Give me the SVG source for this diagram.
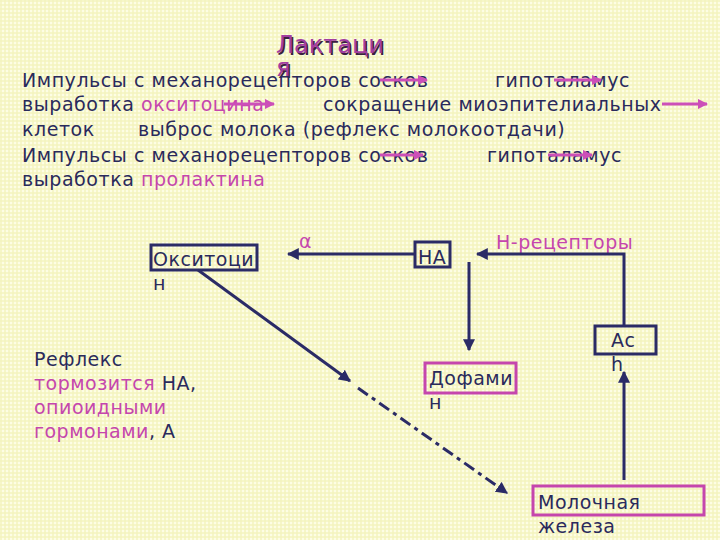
<svg xmlns="http://www.w3.org/2000/svg" width="720" height="540" viewBox="0 0 720 540">
<defs>
<pattern id="bg" width="4" height="4" patternUnits="userSpaceOnUse">
<rect width="4" height="4" fill="#fdfde4"/>
<rect width="4" height="2" fill="#f4f4bc" opacity="0.7"/>
<rect width="2" height="4" fill="#f4f4bc" opacity="0.7"/>
</pattern>
<marker id="ah" viewBox="0 0 10 10" refX="9" refY="5" markerWidth="4" markerHeight="4" orient="auto" markerUnits="strokeWidth">
<path d="M0,0 L10,5 L0,10 z" fill="#2b2b66"/>
</marker>
<marker id="ph" viewBox="0 0 10 10" refX="9" refY="5" markerWidth="3.5" markerHeight="3.5" orient="auto" markerUnits="strokeWidth">
<path d="M0,0 L10,5 L0,10 z" fill="#cc4fb8"/>
</marker>
</defs>
<style>
.t{font-family:"DejaVu Sans",sans-serif;font-size:19px;letter-spacing:0.55px;fill:#2a2a5c}
.s{font-family:"DejaVu Sans",sans-serif;font-size:19px;letter-spacing:0.5px;fill:#2a2a5c}
.p{fill:#c546ad}
.title{font-family:"DejaVu Sans",sans-serif;font-size:24px;fill:#a33ea0}
.sh{font-family:"DejaVu Sans",sans-serif;font-size:24px;fill:#3a2040}
.nb{fill:none;stroke:#2b2b66;stroke-width:3}
.pb{fill:none;stroke:#c546ad;stroke-width:3}
.c{fill:none;stroke:#2b2b66;stroke-width:3}
.pa{fill:none;stroke:#cc4fb8;stroke-width:3}
</style>
<rect width="720" height="540" fill="url(#bg)"/>

<g id="title">
<text class="sh" x="277.5" y="54.5">Лактаци</text>
<text class="sh" x="277.5" y="77.5">я</text>
<text class="title" x="276" y="53">Лактаци</text>
<text class="title" x="276" y="76">я</text>
</g>

<g id="text-block">
<text class="t" x="22" y="87">Импульсы с механорецепторов сосков</text>
<text class="t" x="495" y="87">гипоталамус</text>
<text class="t" x="22" y="111">выработка <tspan class="p">окситоцина</tspan></text>
<text class="t" x="323" y="111">сокращение миоэпителиальных</text>
<text class="t" x="22" y="136">клеток</text>
<text class="t" x="138" y="136">выброс молока (рефлекс молокоотдачи)</text>
<text class="t" x="22" y="162">Импульсы с механорецепторов сосков</text>
<text class="t" x="487" y="162">гипоталамус</text>
<text class="t" x="22" y="186">выработка <tspan class="p">пролактина</tspan></text>
</g>

<g id="text-arrows">
<line class="pa" x1="380" y1="80" x2="427" y2="80" marker-end="url(#ph)"/>
<line class="pa" x1="554" y1="80" x2="601" y2="80" marker-end="url(#ph)"/>
<line class="pa" x1="224" y1="104" x2="274" y2="104" marker-end="url(#ph)"/>
<line class="pa" x1="662" y1="104" x2="707" y2="104" marker-end="url(#ph)"/>
<line class="pa" x1="380" y1="155" x2="423" y2="155" marker-end="url(#ph)"/>
<line class="pa" x1="548" y1="155" x2="592" y2="155" marker-end="url(#ph)"/>
</g>

<g id="oxytocin">
<rect class="nb" x="151" y="245" width="106" height="25"/>
<text class="s" x="153" y="266">Окситоци</text>
<text class="s" x="153" y="290">н</text>
</g>

<g id="na">
<rect class="nb" x="415" y="242" width="35" height="25"/>
<text class="s" x="418" y="264">НА</text>
</g>

<g id="dopamine">
<rect class="pb" x="425" y="363" width="91" height="30"/>
<text class="s" x="429" y="385">Дофами</text>
<text class="s" x="429" y="409">н</text>
</g>

<g id="ach">
<rect class="nb" x="595" y="326" width="61" height="28"/>
<text class="s" x="611" y="347">Ас</text>
<text class="s" x="611" y="371">h</text>
</g>

<g id="gland">
<rect class="pb" x="533" y="486" width="171" height="29"/>
<text class="s" x="538" y="509">Молочная</text>
<text class="s" x="538" y="533">железа</text>
</g>

<g id="labels">
<text class="s p" x="299" y="248">α</text>
<text class="s p" x="496" y="249">Н-рецепторы</text>
<text class="s" x="34" y="366">Рефлекс</text>
<text class="s" x="34" y="390"><tspan class="p">тормозится</tspan> НА,</text>
<text class="s p" x="34" y="414">опиоидными</text>
<text class="s" x="34" y="438"><tspan class="p">гормонами</tspan>, А</text>
</g>

<g id="connectors">
<line class="c" x1="415" y1="254" x2="288" y2="254" marker-end="url(#ah)"/>
<polyline class="c" points="624,327 624,254 477,254" marker-end="url(#ah)"/>
<line class="c" x1="469" y1="262" x2="469" y2="350" marker-end="url(#ah)"/>
<line class="c" x1="624" y1="480" x2="624" y2="372" marker-end="url(#ah)"/>
<line class="c" x1="198" y1="270" x2="350" y2="381" marker-end="url(#ah)"/>
<line class="c" x1="358" y1="388" x2="507" y2="493" stroke-dasharray="12,5,4,5" marker-end="url(#ah)"/>
</g>
</svg>
